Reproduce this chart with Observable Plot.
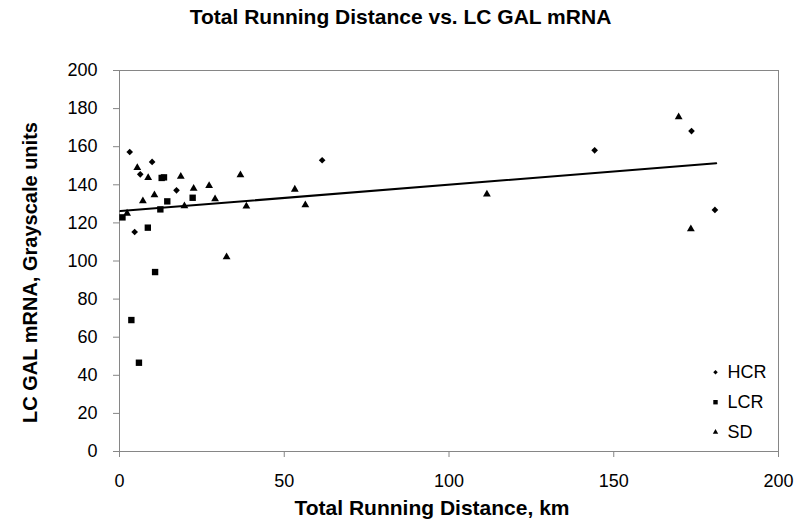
<!DOCTYPE html>
<html><head><meta charset="utf-8">
<script src="https://cdn.jsdelivr.net/npm/d3@7"></script>
<script src="https://cdn.jsdelivr.net/npm/@observablehq/plot@0.6"></script>
<style>body{margin:0;background:#fff;} svg{display:block;}</style>
</head><body><div id="chart"></div>
<script>
const title = "Total Running Distance vs. LC GAL mRNA";
const xLabel = "Total Running Distance, km";
const yLabel = "LC GAL mRNA, Grayscale units";
const xTicks = [0, 50, 100, 150, 200];
const yTicks = [0, 20, 40, 60, 80, 100, 120, 140, 160, 180, 200];
const seriesNames = ["HCR", "LCR", "SD"];

const hcrX = [3.1, 6.3, 9.9, 17.3, 4.6, 61.5, 144.2, 173.6, 180.7];
const hcrY = [157.2, 145.5, 152.0, 137.1, 115.2, 152.9, 158.1, 168.2, 126.8];

const lcrX = [12.8, 13.5, 14.5, 22.2, 12.4, 0.9, 8.6, 10.8, 3.6, 5.9];
const lcrY = [143.6, 143.9, 131.3, 133.2, 127.1, 122.9, 117.5, 94.2, 69.0, 46.6];

const sdX = [5.4, 8.7, 18.6, 36.7, 22.5, 27.2, 10.6, 7.1, 29.0, 19.7, 38.5, 2.3, 53.2, 56.4, 32.5, 111.5, 169.7, 173.4];
const sdY = [149.0, 143.7, 144.3, 145.1, 138.0, 139.5, 134.6, 131.5, 132.5, 128.9, 128.7, 125.0, 137.6, 129.4, 102.1, 135.0, 175.6, 116.8];

const trendX = [0.3, 181.1];
const trendY = [126.2, 151.3];

const toRows = (xs, ys) => xs.map((x, i) => ({x, y: ys[i]}));
const symbols = {HCR: "diamond2", LCR: "square", SD: "triangle"};
const radius = {HCR: 3.0, LCR: 3.6, SD: 2.9};
const legendRadius = {HCR: 2.0, LCR: 2.5, SD: 2.0};
const seriesData = {HCR: toRows(hcrX, hcrY), LCR: toRows(lcrX, lcrY), SD: toRows(sdX, sdY)};
const trend = toRows(trendX, trendY);

const gray = "#868686";
const W = 800, H = 521, mL = 119, mR = 22, mT = 70, mB = 70;
const frameCx = mL + (W - mL - mR) / 2;
const frameCy = mT + (H - mT - mB) / 2;

const marks = [
  Plot.frame({stroke: gray}),
  Plot.axisX({ticks: xTicks, tickSize: 6, tickPadding: 17, fontSize: 18, stroke: gray, fill: "black", label: null, tickFormat: d => String(d)}),
  Plot.axisY({ticks: yTicks, tickSize: 6, tickPadding: 16, fontSize: 18, stroke: gray, fill: "black", label: null, tickFormat: d => String(d)}),
  Plot.line(trend, {x: "x", y: "y", stroke: "black", strokeWidth: 2})
];
for (const s of seriesNames) {
  marks.push(Plot.dot(seriesData[s], {x: "x", y: "y", symbol: symbols[s], r: radius[s], fill: "black", stroke: "none"}));
}
seriesNames.forEach((s, i) => {
  const dy = -19.3 - 30 * (seriesNames.length - 1 - i);
  marks.push(Plot.dot([s], {frameAnchor: "bottom-right", dx: -63, dy, symbol: symbols[s], r: legendRadius[s], fill: "black", stroke: "none"}));
  marks.push(Plot.text([s], {text: d => d, frameAnchor: "bottom-right", dx: -51, dy, textAnchor: "start", lineAnchor: "middle", fontSize: 18, fill: "black"}));
});
marks.push(Plot.text([title], {text: d => d, frameAnchor: "top", dx: W / 2 - frameCx, dy: 23 - mT, textAnchor: "middle", lineAnchor: "bottom", fontSize: 21, fontWeight: "bold", fill: "black"}));
marks.push(Plot.text([xLabel], {text: d => d, frameAnchor: "bottom", dx: 431.5 - frameCx, dy: 514 - (H - mB), textAnchor: "middle", lineAnchor: "bottom", fontSize: 21, fontWeight: "bold", fill: "black"}));
marks.push(Plot.text([yLabel], {text: d => d, frameAnchor: "left", rotate: -90, dx: 30 - mL, dy: 272 - frameCy, textAnchor: "middle", lineAnchor: "middle", fontSize: 20, fontWeight: "bold", fill: "black"}));

const chart = Plot.plot({
  width: W, height: H,
  marginLeft: mL, marginRight: mR, marginTop: mT, marginBottom: mB,
  style: {fontFamily: "'Liberation Sans', Arial, sans-serif", background: "white", color: "black"},
  x: {domain: [0, 200], axis: null},
  y: {domain: [0, 200], axis: null},
  marks
});
document.getElementById("chart").appendChild(chart);
</script>
</body></html>
